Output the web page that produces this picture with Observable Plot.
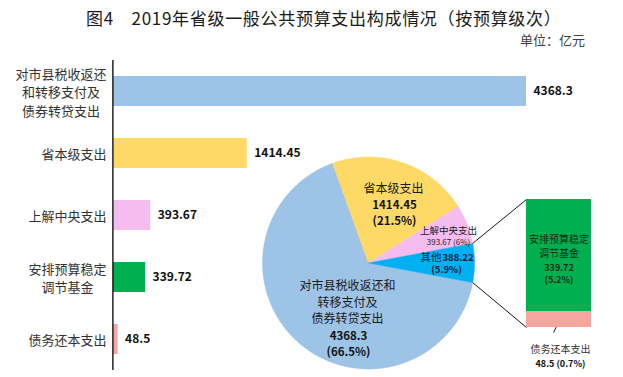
<!DOCTYPE html>
<html><head><meta charset="utf-8">
<script src="https://cdn.jsdelivr.net/npm/d3@7"></script>
<script src="https://cdn.jsdelivr.net/npm/@observablehq/plot@0.6"></script>
<style>
body{margin:0;background:#fff;}
#wrap{position:relative;width:623px;height:377px;overflow:hidden;background:#fff;font-family:"Noto Sans CJK SC","Noto Sans",sans-serif;}
#wrap > *{position:absolute;}
</style></head><body><div id="wrap"></div>
<script>
// ---------- data ----------
const titleText = "图4\u30002019年省级一般公共预算支出构成情况（按预算级次）";
const unitText = "单位：亿元";

const categories = ["对市县税收返还和转移支付及债券转贷支出","省本级支出","上解中央支出","安排预算稳定调节基金","债务还本支出"];
const categoryLines = [["对市县税收返还","和转移支付及","债券转贷支出"],["省本级支出"],["上解中央支出"],["安排预算稳定","调节基金"],["债务还本支出"]];
const values = [4368.3, 1414.45, 393.67, 339.72, 48.5];
const valueLabels = ["4368.3","1414.45","393.67","339.72","48.5"];
const barColors = ["#9DC3E6","#FFD966","#F5BCF0","#00B050","#F5A6A0"];

const pieNames = ["对市县税收返还和转移支付及债券转贷支出","省本级支出","上解中央支出","其他"];
const pieLabelLines = [["对市县税收返还和","转移支付及","债券转贷支出"],["省本级支出"],["上解中央支出"],["其他"]];
const pieValues = [4368.3, 1414.45, 393.67, 388.22];
const pieValueLabels = ["4368.3","1414.45","393.67","388.22"];
const piePercents = ["66.5%","21.5%","6%","5.9%"];
const pieColors = ["#9DC3E6","#FFD966","#F5BCF0","#00B0F0"];

const otherNames = ["安排预算稳定调节基金","债务还本支出"];
const otherLabelLines = [["安排预算稳定","调节基金"],["债务还本支出"]];
const otherValues = [339.72, 48.5];
const otherValueLabels = ["339.72","48.5"];
const otherPercents = ["5.2%","0.7%"];
const otherColors = ["#00B050","#F5A6A0"];

// ---------- layout ----------
const FONT = '"Noto Sans CJK SC","Noto Sans",sans-serif';
const W = 623, H = 377;
const PIE = {cx: 368, cy: 262.5, r: 106};
const BOX = {x0: 526, x1: 591, y0: 199, y1: 327};
const wrap = document.getElementById("wrap");

// ---------- titles ----------
const title = document.createElement("div");
title.textContent = titleText;
Object.assign(title.style, {left: "86px", top: "7px", fontSize: "17px", lineHeight: "22px", letterSpacing: "0.7px", color: "#1a1a1a", whiteSpace: "pre"});
const unit = document.createElement("div");
unit.textContent = unitText;
Object.assign(unit.style, {left: "520px", top: "31px", fontSize: "13px", lineHeight: "18px", color: "#404040", whiteSpace: "pre"});

// ---------- bar chart ----------
const barData = categories.map((c, i) => ({cat: c, value: values[i], label: valueLabels[i], color: barColors[i], lines: categoryLines[i]}));
const barPlot = Plot.plot({
  width: W, height: H,
  marginLeft: 113, marginRight: W - 526, marginTop: 60, marginBottom: 7,
  x: {domain: [0, d3.max(values)], axis: null},
  y: {domain: categories, paddingInner: 0.52, paddingOuter: 0.26, axis: null},
  color: {type: "identity"},
  style: {fontFamily: FONT, background: "transparent"},
  marks: [
    Plot.barX(barData, {x: "value", y: "cat", fill: "color"}),
    Plot.ruleX([0], {stroke: "#000", strokeWidth: 1.3, dx: -0.6}),
    Plot.text(barData, {x: "value", y: "cat", text: "label", textAnchor: "start", dx: 7, fontSize: 12, fontWeight: "bold", fill: "#111"}),
    ...barData.map(d => Plot.text([d], {
      x: () => 0, y: "cat", text: r => r.lines.join("\n"),
      textAnchor: "middle", dx: -7 - d3.max(d.lines, l => l.length) * 13 / 2,
      fontSize: 13, lineHeight: 1.4, fill: "#333"
    }))
  ]
});

// ---------- pie ----------
const total = d3.sum(pieValues);
const start = Math.PI / 2 + Math.PI * pieValues[3] / total;
const arcs = d3.pie().sort(null).startAngle(start).endAngle(start + 2 * Math.PI)(pieValues);
const pt = (a, rr = PIE.r) => [PIE.cx + rr * Math.sin(a), PIE.cy - rr * Math.cos(a)];
const slicePts = [];
arcs.forEach((a, i) => {
  const name = pieNames[i], color = pieColors[i];
  slicePts.push({name, color, x: PIE.cx, y: PIE.cy});
  const n = Math.max(2, Math.ceil((a.endAngle - a.startAngle) / (Math.PI / 360)));
  for (let k = 0; k <= n; k++) {
    const [x, y] = pt(a.startAngle + (a.endAngle - a.startAngle) * k / n);
    slicePts.push({name, color, x, y});
  }
  slicePts.push({name, color, x: PIE.cx, y: PIE.cy});
});
const oArc = arcs[3];
const links = [
  {p: pt(oArc.startAngle), q: [BOX.x0, BOX.y0]},
  {p: pt(oArc.endAngle), q: [BOX.x0, BOX.y1]},
  {p: [560, 318], q: [553, 332]}
];

// label anchors (layout)
const nameLabels = [
  {x: 347, y: 301, t: pieLabelLines[0].join("\n"), s: 12, f: "#1a1a1a"},
  {x: 393, y: 187.5, t: pieLabelLines[1].join("\n"), s: 12, f: "#1a1a1a"},
  {x: 448, y: 229, t: pieLabelLines[2].join("\n"), s: 9.5, f: "#1a1a1a"},
  {x: 448, y: 241.5, t: `${pieValueLabels[2]} (${piePercents[2]})`, s: 8, f: "#1a1a1a"},
  {x: 430.5, y: 256, t: pieLabelLines[3].join("\n"), s: 10.5, f: "#10243e"},
  {x: 560, y: 348, t: otherLabelLines[1].join("\n"), s: 10, f: "#333"}
];
const boldLabels = [
  {x: 348, y: 342.5, t: `${pieValueLabels[0]}\n(${piePercents[0]})`, s: 11.5, f: "#111"},
  {x: 394, y: 211.5, t: `${pieValueLabels[1]}\n(${piePercents[1]})`, s: 11.5, f: "#111"},
  {x: 457.5, y: 256, t: pieValueLabels[3], s: 9.5, f: "#10243e"},
  {x: 446, y: 268.5, t: `(${piePercents[3]})`, s: 9.5, f: "#10243e"},
  {x: 560, y: 363, t: `${otherValueLabels[1]} (${otherPercents[1]})`, s: 9, f: "#111"}
];

const piePlot = Plot.plot({
  width: W, height: H, margin: 0,
  x: {domain: [0, W], range: [0, W], axis: null},
  y: {domain: [0, H], range: [0, H], axis: null},
  color: {type: "identity"},
  style: {fontFamily: FONT, background: "transparent"},
  marks: [
    Plot.line(slicePts, {x: "x", y: "y", z: "name", fill: "color", stroke: "color", strokeWidth: 0.5}),
    Plot.link(links, {x1: d => d.p[0], y1: d => d.p[1], x2: d => d.q[0], y2: d => d.q[1], stroke: "#000", strokeWidth: 0.9}),
    Plot.text(nameLabels, {x: "x", y: "y", text: "t", fontSize: "s", fill: "f", textAnchor: "middle", lineHeight: 1.35}),
    Plot.text(boldLabels, {x: "x", y: "y", text: "t", fontSize: "s", fill: "f", textAnchor: "middle", fontWeight: "bold", lineHeight: 1.38})
  ]
});

// ---------- bar of pie ----------
const otherData = otherNames.map((n, i) => ({name: n, value: otherValues[i], color: otherColors[i],
  nameText: otherLabelLines[i].join("\n"), valText: `${otherValueLabels[i]}\n(${otherPercents[i]})`}));
const stackPlot = Plot.plot({
  width: BOX.x1 - BOX.x0, height: BOX.y1 - BOX.y0, margin: 0,
  y: {domain: [0, d3.sum(otherValues)], reverse: true, axis: null},
  color: {type: "identity"},
  style: {fontFamily: FONT, background: "transparent", overflow: "visible"},
  marks: [
    Plot.barY(otherData, {y: "value", fill: "color"}),
    Plot.text(otherData.slice(0, 1), Plot.stackY({y: "value", text: "nameText", fontSize: 10, lineHeight: 1.4, dy: -9.5, fill: "#0d2a12", frameAnchor: "middle"})),
    Plot.text(otherData.slice(0, 1), Plot.stackY({y: "value", text: "valText", fontSize: 9, lineHeight: 1.35, dy: 17.5, fontWeight: "bold", fill: "#0d2a12", frameAnchor: "middle"}))
  ]
});

[barPlot, piePlot, stackPlot].forEach(p => { p.style.position = "absolute"; });
barPlot.style.left = "0px"; barPlot.style.top = "0px";
piePlot.style.left = "0px"; piePlot.style.top = "0px";
stackPlot.style.left = BOX.x0 + "px"; stackPlot.style.top = BOX.y0 + "px";
wrap.append(barPlot, piePlot, stackPlot, title, unit);
</script>
</body></html>
